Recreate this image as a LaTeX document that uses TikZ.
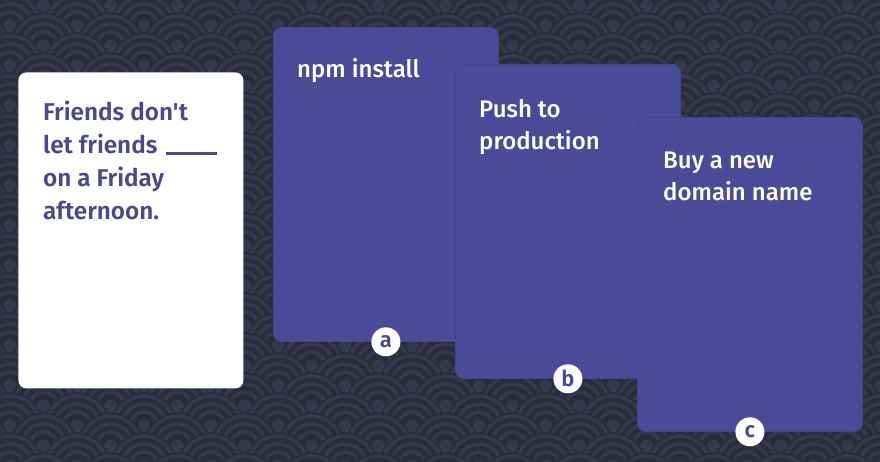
\documentclass[tikz,border=0pt]{standalone}
\usepackage{fontspec}
\newfontfamily\cardfont{Fira Sans Medium}
\newfontfamily\promptfont{Fira Sans SemiBold}
\definecolor{bg}{HTML}{2A2C3B}
\definecolor{wave}{HTML}{35384A}
\definecolor{card}{HTML}{4B4A98}
\definecolor{cardedge}{HTML}{44448A}
\definecolor{ink}{HTML}{4A4990}
\tikzset{
  cardbox/.style={fill=card, draw=cardedge, line width=0.8pt, rounded corners=8pt,
    anchor=north west, minimum width=225pt, minimum height=314pt, inner sep=0pt},
  whitebox/.style={cardbox, fill=white, draw=none, minimum height=316pt},
  cardtext/.style={text=white, anchor=base west, align=left, inner sep=0pt,
    font=\cardfont\fontsize{24}{32}\selectfont},
  prompt/.style={text=ink, anchor=base west, align=left, inner sep=0pt,
    font=\promptfont\fontsize{24.3}{33}\selectfont},
  badge/.style={circle, fill=white, text=ink, inner sep=0pt, minimum size=29pt,
    font=\promptfont\fontsize{22}{22}\selectfont},
}
\begin{document}
\begin{tikzpicture}[x=1pt,y=-1pt]
\useasboundingbox (0,0) rectangle (880,461);
\fill[bg] (0,0) rectangle (880,461);
\begin{scope}
\clip (0,0) rectangle (880,461);
\foreach \j in {0,...,25}{
  \pgfmathsetmacro\off{mod(\j,2)*33.5}
  \pgfmathsetmacro\cy{\j*20-14}
  \foreach \i in {-1,...,14}{
    \pgfmathsetmacro\cx{\i*67+\off+10}
    \fill[bg] (\cx,\cy) circle[radius=33.5];
    \draw[wave,line width=3.6pt] (\cx,\cy) circle[radius=30] circle[radius=22] circle[radius=14];
    \fill[wave] (\cx,\cy) circle[radius=6.5];
  }
}
\end{scope}
% prompt card
\node (cw) [whitebox] at (18,72) {};
\node (tw) [prompt] at (43,219) {Friends don't\\let friends\hspace{8pt}\rule[-1.5pt]{51pt}{3pt}\\on a Friday\\afternoon.};
% answer cards
\node (ca) [cardbox] at (273,27) {};
\node (ta) [cardtext] at (297,77) {npm install};
\node (ba) [badge] at (ca.south) {a};
\node (cb) [cardbox] at (455,64) {};
\node (tb) [cardtext] at (479,149) {Push to\\production};
\node (bb) [badge] at (cb.south) {b};
\node (cc) [cardbox] at (637,117) {};
\node (tc) [cardtext] at (663,200) {Buy a new\\domain name};
\node (bc) [badge] at (cc.south) {c};
\end{tikzpicture}
\end{document}
